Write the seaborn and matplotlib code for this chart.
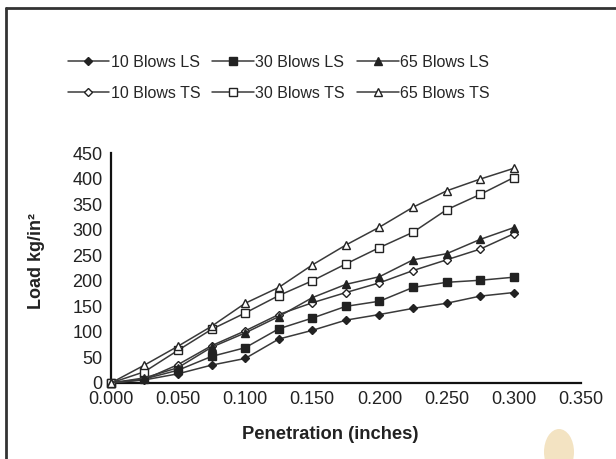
import matplotlib
matplotlib.use("Agg")
import matplotlib.pyplot as plt
import seaborn as sns
from matplotlib.lines import Line2D
from matplotlib.patches import Ellipse

# penetration (inches)
penetration = [0.0, 0.025, 0.05, 0.075, 0.1, 0.125, 0.15, 0.175, 0.2, 0.225, 0.25, 0.275, 0.3]

# load kg/in^2
blows10_ls = [0, 6, 18, 35, 48, 86, 103, 123, 134, 146, 156, 170, 177]
blows30_ls = [0, 8, 25, 52, 69, 106, 127, 150, 160, 187, 197, 201, 207]
blows65_ls = [0, 10, 30, 70, 98, 130, 167, 193, 208, 241, 253, 281, 304]
blows10_ts = [0, 7, 36, 73, 102, 134, 157, 177, 196, 220, 241, 262, 292]
blows30_ts = [0, 22, 64, 105, 137, 171, 200, 233, 265, 295, 339, 369, 402]
blows65_ts = [0, 35, 72, 111, 156, 187, 231, 270, 305, 344, 376, 399, 420]

# legend order (column-wise for 3 columns x 2 rows)
series = [
    ("10 Blows LS", blows10_ls, "D", "#222222", 4.5),
    ("10 Blows TS", blows10_ts, "D", "white", 4.5),
    ("30 Blows LS", blows30_ls, "s", "#222222", 6),
    ("30 Blows TS", blows30_ts, "s", "white", 6),
    ("65 Blows LS", blows65_ls, "^", "#222222", 6),
    ("65 Blows TS", blows65_ts, "^", "white", 6),
]

sns.set_style("white")
plt.rcParams["font.family"] = ["Liberation Sans", "DejaVu Sans"]

fig = plt.figure(figsize=(6.16, 4.59), dpi=100)
ax = fig.add_axes([0.180, 0.1656, 0.763, 0.501])

line_col = "#3a3a3a"
for name, vals, mk, face, ms in series:
    sns.lineplot(x=penetration, y=vals, ax=ax, color=line_col, linewidth=1.1,
                 marker=mk, markersize=ms, markerfacecolor=face,
                 markeredgecolor="#222222", markeredgewidth=1.0,
                 label=name, clip_on=False, zorder=3)

ax.set_xlim(0, 0.35)
ax.set_ylim(0, 450)
ax.set_xticks([0.0, 0.05, 0.1, 0.15, 0.2, 0.25, 0.3, 0.35])
ax.set_xticklabels([f"{v:.3f}" for v in ax.get_xticks()])
ax.set_yticks(range(0, 451, 50))

for s in ["top", "right"]:
    ax.spines[s].set_visible(False)
for s in ["left", "bottom"]:
    ax.spines[s].set_color("#111111")
    ax.spines[s].set_linewidth(1.6)

ax.tick_params(axis="both", direction="out", length=5, width=1.3, color="#111111",
               labelsize=13, pad=1, labelcolor="#222222")

ax.set_xlabel("Penetration (inches)", fontsize=13.2, fontweight="bold", color="#222222")
ax.set_ylabel("Load kg/in²", fontsize=13, fontweight="bold", color="#222222")
ax.xaxis.set_label_coords(0.466, -0.185)
ax.yaxis.set_label_coords(-0.14, 0.53)

ax.legend(loc="center", bbox_to_anchor=(0.357, 1.326), ncol=3, frameon=False,
          fontsize=11.5, handlelength=2.6, handletextpad=0.1, columnspacing=0.75,
          labelspacing=1.0)

# outer frame
fig.add_artist(Line2D([6 / 616, 6 / 616], [0, 1 - 8 / 459], transform=fig.transFigure,
                      color="#333333", linewidth=2))
fig.add_artist(Line2D([6 / 616, 1], [1 - 8 / 459, 1 - 8 / 459], transform=fig.transFigure,
                      color="#333333", linewidth=2))
# decorative blot bottom right
fig.add_artist(Ellipse((559 / 616, 1 - 452 / 459), 30 / 616, 46 / 459,
                       transform=fig.transFigure, color="#f3e3c2", linewidth=0))

fig.savefig("out.png", dpi=100)
